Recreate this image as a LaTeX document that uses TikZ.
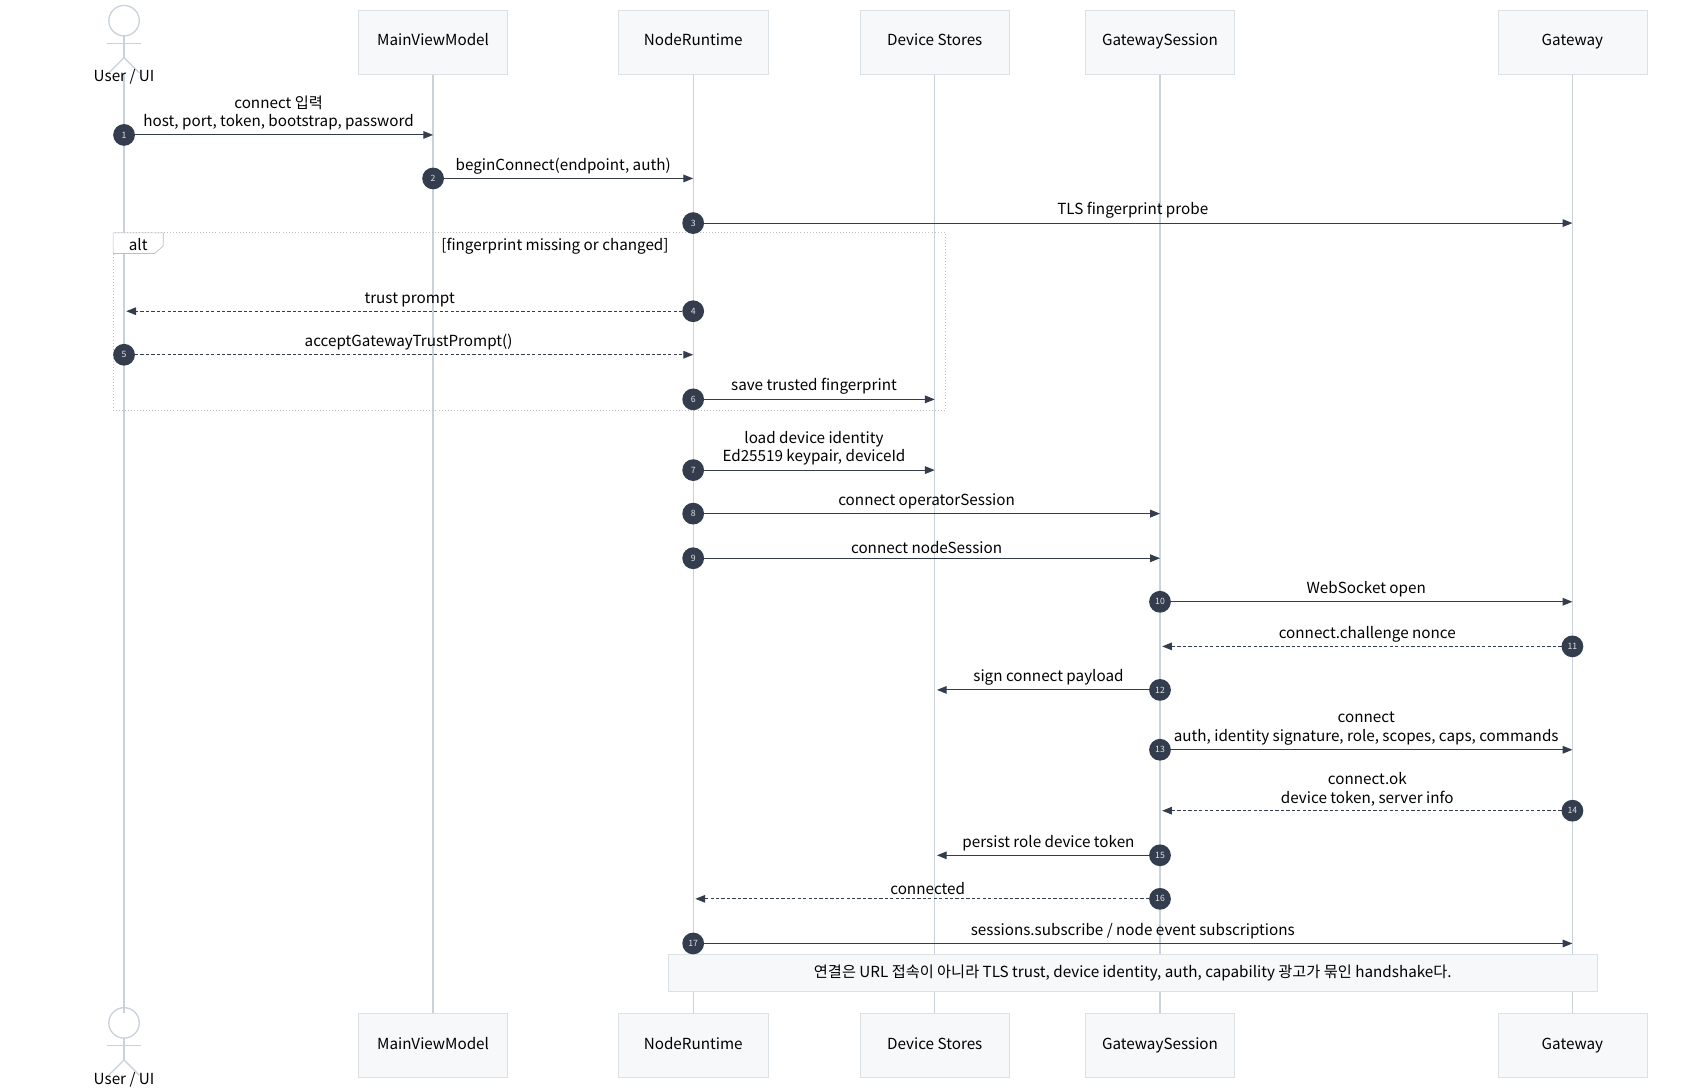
\documentclass[tikz,border=0pt]{standalone}
\usepackage{fontspec}
\setmainfont{Noto Sans CJK KR}
\usetikzlibrary{arrows.meta}
\definecolor{life}{HTML}{C9D1DB}
\definecolor{boxf}{HTML}{F6F8FA}
\definecolor{boxd}{HTML}{DCE1E6}
\definecolor{ink}{HTML}{333D4D}
\begin{document}
\begin{tikzpicture}[x=1pt,y=-1pt,
 part/.style={draw=boxd,fill=boxf,minimum width=137pt,minimum height=59pt,font=\fontsize{14}{16}\selectfont,inner sep=0,text height=10pt,text depth=3pt},
 ll/.style={draw=life,line width=1.2pt},
 msg/.style={draw=ink,line width=1pt,-{Triangle[length=9pt,width=7pt]}},
 ret/.style={msg,dash pattern=on 3pt off 2pt},
 num/.style={circle,fill=ink,text=white!75!gray,minimum size=20pt,inner sep=0,font=\fontsize{8}{9}\selectfont},
 lab/.style={font=\fontsize{14}{17}\selectfont,align=center,anchor=south,inner sep=1pt}]
\useasboundingbox (0,0) rectangle (1565,1003);
% lifelines
\foreach \n/\x in {U/114,M/398,N/637,D/859,S/1066,G/1445}{
  \coordinate (\n t) at (\x,68); \coordinate (\n b) at (\x,931);
  \draw[ll] (\n t) -- (\n b);}
% actors
\foreach \y in {5,926}{
  \begin{scope}[draw=life,line width=1.2pt]
  \draw (114,\y+14) circle (14);
  \draw (114,\y+28) -- (114,\y+48);
  \draw (98,\y+35) -- (130,\y+35);
  \draw (100,\y+62) -- (114,\y+48) -- (128,\y+62);
  \end{scope}}
\node[font=\fontsize{14}{16}\selectfont] (ua) at (114,71) {User / UI};
\node[font=\fontsize{14}{16}\selectfont] (ub) at (114,992) {User / UI};
% participant boxes
\foreach \n/\x/\t in {M/398/MainViewModel,N/637/NodeRuntime,D/859/Device Stores,S/1066/GatewaySession,G/1445/Gateway}{
  \node[part] (\n top) at (\x,38.5) {\t};
  \node[part] (\n bot) at (\x,960.5) {\t};}
% alt frame
\draw[draw=gray!50,dotted,line width=0.8pt] (104,214) rectangle (869,377);
\draw[draw=gray!50,fill=white,line width=0.6pt] (104,214) -- (150,214) -- (150,226) -- (142,233) -- (104,233) -- cycle;
\node[font=\fontsize{14}{16}\selectfont] (alt) at (127,225) {alt};
\node[font=\fontsize{14}{16}\selectfont] (cond) at (510,226) {[fingerprint missing or changed]};
% note
\node[draw=boxd,fill=boxf,minimum width=854pt,minimum height=34pt,font=\fontsize{14}{16}\selectfont] (note) at (1041,894) {연결은 URL 접속이 아니라 TLS trust, device identity, auth, capability 광고가 묶인 handshake다.};
% messages
\newcommand\mymsg[7]{% style, from x, to x, y, num, label, numx
  \coordinate (a#5) at (#2,#4); \coordinate (b#5) at (#3,#4);
  \draw[#1] (a#5) -- (b#5);
  \node[lab] (l#5) at ({(#2+#3)/2},#4-3) {#6};
  \node[num] (n#5) at (#7,#4) {#5};}
\mymsg{msg}{114}{398}{124}{1}{connect 입력\\host, port, token, bootstrap, password}{114}
\mymsg{msg}{398}{637}{164}{2}{beginConnect(endpoint, auth)}{398}
\mymsg{msg}{637}{1445}{205}{3}{TLS fingerprint probe}{637}
\mymsg{ret}{637}{116}{286}{4}{trust prompt}{637}
\mymsg{ret}{114}{637}{326}{5}{acceptGatewayTrustPrompt()}{114}
\mymsg{msg}{637}{859}{367}{6}{save trusted fingerprint}{637}
\mymsg{msg}{637}{859}{432}{7}{load device identity\\Ed25519 keypair, deviceId}{637}
\mymsg{msg}{637}{1066}{472}{8}{connect operatorSession}{637}
\mymsg{msg}{637}{1066}{513}{9}{connect nodeSession}{637}
\mymsg{msg}{1066}{1445}{553}{10}{WebSocket open}{1066}
\mymsg{ret}{1445}{1068}{594}{11}{connect.challenge nonce}{1445}
\mymsg{msg}{1066}{861}{634}{12}{sign connect payload}{1066}
\mymsg{msg}{1066}{1445}{689}{13}{connect\\auth, identity signature, role, scopes, caps, commands}{1066}
\mymsg{ret}{1445}{1068}{745}{14}{connect.ok\\device token, server info}{1445}
\mymsg{msg}{1066}{861}{786}{15}{persist role device token}{1066}
\mymsg{ret}{1066}{639}{826}{16}{connected}{1066}
\mymsg{msg}{637}{1445}{867}{17}{sessions.subscribe / node event subscriptions}{637}
\end{tikzpicture}
\end{document}
